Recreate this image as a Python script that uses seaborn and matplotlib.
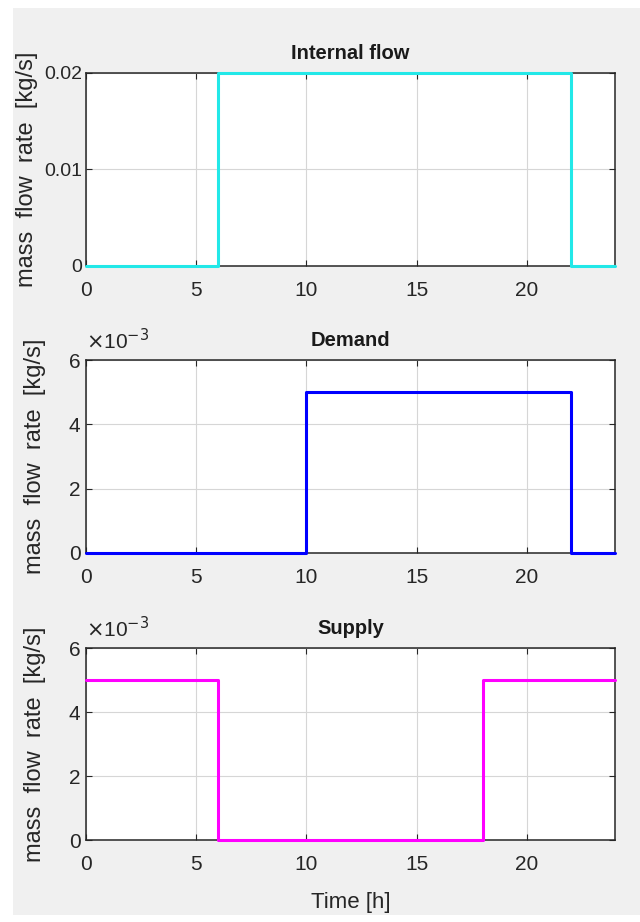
import matplotlib
matplotlib.use("Agg")
import matplotlib.pyplot as plt
from matplotlib.patches import Rectangle
from matplotlib.ticker import FuncFormatter
import seaborn as sns
import pandas as pd

# ---- data ----
hours_internal = [0, 6, 22, 24]
flow_internal = [0.0, 0.02, 0.0, 0.0]
hours_demand = [0, 10, 22, 24]
flow_demand = [0.0, 0.005, 0.0, 0.0]
hours_supply = [0, 6, 18, 24]
flow_supply = [0.005, 0.0, 0.005, 0.005]
titles = ["Internal flow", "Demand", "Supply"]
colors = ["#22e8e8", "#0000ff", "#ff00ff"]
xticks = [0, 5, 10, 15, 20]
yticks_top = [0, 0.01, 0.02]
yticks_small = [0, 0.002, 0.004, 0.006]

sns.set_theme(style="white")
plt.rcParams["font.family"] = ["Liberation Sans", "DejaVu Sans"]

fig = plt.figure(figsize=(6.4, 9.22), dpi=100, facecolor="white")
fig.patches.append(Rectangle((13 / 640, 7 / 922), 1 - 13 / 640, 1 - 15 / 922,
                             transform=fig.transFigure, facecolor="#f0f0f0",
                             edgecolor="none", zorder=-10))

W = 640.0
H = 922.0
boxes = [(86, 73, 615, 266), (86, 360, 615, 553), (86, 648, 615, 840)]
series = [(hours_internal, flow_internal), (hours_demand, flow_demand), (hours_supply, flow_supply)]

for i, (box, (hx, fy)) in enumerate(zip(boxes, series)):
    l, t, r, b = box
    ax = fig.add_axes([l / W, 1 - b / H, (r - l) / W, (b - t) / H])
    ax.set_facecolor("white")
    df = pd.DataFrame({"hour": hx, "flow": fy})
    sns.lineplot(data=df, x="hour", y="flow", ax=ax, color=colors[i],
                 linewidth=2.2, drawstyle="steps-post", clip_on=False, zorder=5)
    ax.set_xlim(0, 24)
    ax.set_xticks(xticks)
    if i == 0:
        ax.set_ylim(0, 0.02)
        ax.set_yticks(yticks_top)
        ax.yaxis.set_major_formatter(FuncFormatter(lambda v, p: "0" if v == 0 else f"{v:.2f}"))
    else:
        ax.set_ylim(0, 0.006)
        ax.set_yticks(yticks_small)
        ax.yaxis.set_major_formatter(FuncFormatter(lambda v, p: f"{v*1e3:g}"))
        ax.text(0.0, 1.035, r"$\times$10$^{-3}$", transform=ax.transAxes,
                fontsize=15, color="#262626", ha="left", va="bottom")
    ax.grid(True, color="#d6d6d6", linewidth=0.8)
    for s in ax.spines.values():
        s.set_visible(True)
        s.set_color("#262626")
        s.set_linewidth(1.1)
    ax.tick_params(direction="in", length=4, width=0.8, top=True, right=True,
                   bottom=True, left=True, labelsize=15, colors="#262626",
                   labelcolor="#262626")
    ax.tick_params(axis="x", pad=11)
    ax.tick_params(axis="y", pad=4)
    if i == 0:
        ax.tick_params(axis="y", labelsize=14, pad=3)
    ax.set_title(titles[i], fontsize=14.5, fontweight="bold", color="#1a1a1a", pad=10)
    ax.set_ylabel("mass  flow  rate  [kg/s]", fontsize=17, color="#262626")
    ax.yaxis.set_label_coords(-0.09 if i == 0 else -0.075, 0.5)
    if i == 2:
        ax.set_xlabel("Time [h]", fontsize=16, color="#262626")
        ax.xaxis.set_label_coords(0.5, -0.27)
    else:
        ax.set_xlabel("")

fig.savefig("out.png", dpi=100, facecolor=fig.get_facecolor())
